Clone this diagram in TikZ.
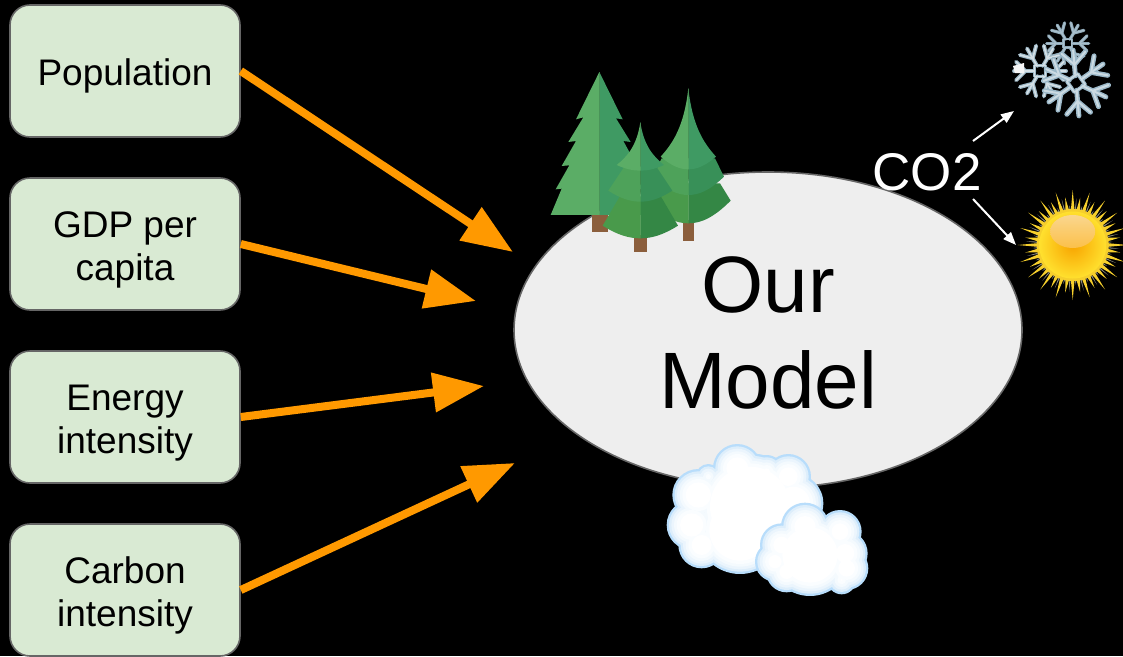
\documentclass[tikz,border=0pt]{standalone}
\usepackage{fontspec}
\setmainfont{Liberation Sans}
\usetikzlibrary{arrows.meta,shapes.geometric}
\definecolor{boxfill}{HTML}{D9EAD3}
\definecolor{edgegrey}{HTML}{666666}
\definecolor{orangeline}{HTML}{FF9900}
\definecolor{modelfill}{HTML}{EEEEEE}
\definecolor{cl0}{HTML}{B8DDFB}
\definecolor{cl1}{HTML}{DDEEFB}
\definecolor{cl2}{HTML}{EBF5FD}
\definecolor{cl3}{HTML}{F4FAFE}
\definecolor{cl4}{HTML}{FAFDFF}
\definecolor{flakeA}{HTML}{8FA9B8}
\definecolor{flakeAh}{HTML}{A9C0CD}
\definecolor{flakeB}{HTML}{9DB8C6}
\definecolor{flakeBh}{HTML}{D5E0E6}
\definecolor{flakeC}{HTML}{9BB8C8}
\definecolor{flakeCh}{HTML}{CBDAE2}
\definecolor{sunray}{HTML}{F6CF2C}
\definecolor{sunshadow}{HTML}{8A8A80}
\definecolor{sunrim}{HTML}{FFE02E}
\definecolor{suncore}{HTML}{F8A400}
\definecolor{sunhia}{HTML}{FAD68E}
\definecolor{sunhib}{HTML}{FBC04A}
\tikzset{
  inputbox/.style={draw=edgegrey,line width=1.6pt,fill=boxfill,rounded corners=20pt,minimum width=230pt,minimum height=132pt,inner sep=0pt,align=center,text=black,font=\fontsize{37}{43}\selectfont},
  model/.style={ellipse,draw=edgegrey,line width=1.6pt,fill=modelfill,minimum width=508pt,minimum height=316pt,inner sep=0pt,align=center,text=black,font=\fontsize{80}{96}\selectfont},
  bigarrow/.style={draw=orangeline,line width=8pt,-{Triangle[length=51pt,width=38pt]}},
  thinarrow/.style={draw=white,line width=2pt,-{Triangle[length=13pt,width=10pt]}},
  co2/.style={text=white,inner sep=0pt,font=\fontsize{53}{60}\selectfont},
  zoomscope/.style={x=0.3333pt,y=-0.3333pt}
}
\newcommand{\dropA}{\rule{0pt}{37pt}}
\newcommand{\dropB}{\rule{0pt}{61pt}}
% top layer: cx, top, half width, side y, bottom y, left colour, right colour
\newcommand{\treetop}[7]{%
  \fill[#7] (#1,#2) .. controls ({#1+.15*#3},{#2+.55*(#4-#2)}) and ({#1+.55*#3},{#4-.2*(#4-#2)}) .. ({#1+#3},#4)
     .. controls ({#1+.6*#3},{#5-.25*(#5-#4)}) and ({#1+.3*#3},#5) .. (#1,#5) -- cycle;
  \fill[#6] ({#1+1},#2) -- (#1,#2) .. controls ({#1-.15*#3},{#2+.55*(#4-#2)}) and ({#1-.55*#3},{#4-.2*(#4-#2)}) .. ({#1-#3},#4)
     .. controls ({#1-.6*#3},{#5-.25*(#5-#4)}) and ({#1-.3*#3},#5) .. (#1,#5) -- ({#1+1},#5) -- cycle;
}
% lower layer: cx, y where it emerges, half width there, half width, side y, bottom y, colours
\newcommand{\treelow}[8]{%
  \fill[#8] (#1,#2) -- ({#1+#3},#2) -- ({#1+#4},#5)
     .. controls ({#1+.6*#4},{#6-.25*(#6-#5)}) and ({#1+.3*#4},#6) .. (#1,#6) -- cycle;
  \fill[#7] ({#1+1},#2) -- ({#1-#3},#2) -- ({#1-#4},#5)
     .. controls ({#1-.6*#4},{#6-.25*(#6-#5)}) and ({#1-.3*#4},#6) .. (#1,#6) -- ({#1+1},#6) -- cycle;
}
% x, y, arm length, rotation, main colour, highlight colour
\newcommand{\flake}[6]{%
  \begin{scope}[shift={(#1,#2)},rotate=#4,x=1pt,y=1pt,line cap=round]
    \foreach \c/\w in {#5/0.15,#6/0.06}{
      \foreach \a in {0,60,...,300}{
        \begin{scope}[rotate=\a]
          \draw[draw=\c,line width=\w*#3 pt] (0.22*#3,0) -- (#3,0);
          \draw[draw=\c,line width=\w*#3 pt] (0.92*#3,0.36*#3) -- (0.56*#3,0) -- (0.92*#3,-0.36*#3);
        \end{scope}
      }
      \draw[draw=\c,line width=\w*0.75*#3 pt,line join=round] (0.2*#3,0.2*#3) rectangle (-0.2*#3,-0.2*#3);
    }
  \end{scope}
}
% cloud from a list of circles, inset in steps so that the edge glows
\newcommand{\softcloud}[1]{%
  \foreach \k/\col in {0/cl0,7/cl1,14/cl2,22/cl3,30/cl4,40/white}{
    \foreach \cx/\cy/\r in {#1}{
      \pgfmathsetmacro{\rr}{max(\r-\k,1)}
      \fill[\col] (\cx,\cy) circle (\rr);
    }
  }
}
\begin{document}
\begin{tikzpicture}[x=1pt,y=-1pt]
\useasboundingbox[fill=black] (0,0) rectangle (1123,656);

\node[inputbox] (pop) at (125,71) {\dropA Population};
\node[inputbox] (gdp) at (125,244) {\dropA GDP per\\capita};
\node[inputbox] (ene) at (125,417) {\dropA Energy\\intensity};
\node[inputbox] (car) at (125,590) {\dropA Carbon\\intensity};

\node[model] (mod) at (768,330) {\dropB Our\\Model};

\coordinate (t1) at (513,252);
\coordinate (t2) at (476,301);
\coordinate (t3) at (484,386);
\coordinate (t4) at (515,463);
\draw[bigarrow] (pop.east) -- (t1);
\draw[bigarrow] (gdp.east) -- (t2);
\draw[bigarrow] (ene.east) -- (t3);
\draw[bigarrow] (car.east) -- (t4);

% trees
\begin{scope}[shift={(540,60)},zoomscope]
  \definecolor{tl1}{HTML}{5BAD66}\definecolor{tr1}{HTML}{3F9A63}
  \definecolor{tl2}{HTML}{4EA25A}\definecolor{tr2}{HTML}{389058}
  \definecolor{tl3}{HTML}{499A4B}\definecolor{tr3}{HTML}{348745}
  \definecolor{trunk}{HTML}{8B5E3C}
  % left tree
  \fill[trunk] (155,460) rectangle (203,516);
  \fill[tr1] (178,36) -- (248,178) -- (228,175) -- (272,246) -- (250,243) -- (291,318) -- (268,316) -- (309,388) -- (291,386) -- (324,465) -- (178,465) -- cycle;
  \fill[tl1] (179,36) -- (178,36) -- (108,178) -- (130,172) -- (85,246) -- (108,243) -- (65,318) -- (88,316) -- (47,388) -- (65,386) -- (32,465) -- (179,465) -- cycle;
  % right tree
  \fill[trunk] (428,480) rectangle (462,542);
  \treelow{445}{370}{95}{127}{422}{490}{tl3}{tr3}
  \treelow{445}{295}{80}{107}{350}{405}{tl2}{tr2}
  \treetop{445}{85}{83}{290}{328}{tl1}{tr1}
  % middle tree
  \fill[trunk] (282,525) rectangle (322,575);
  \treelow{301}{410}{62}{113}{497}{535}{tl3}{tr3}
  \treelow{301}{320}{48}{96}{392}{425}{tl2}{tr2}
  \treetop{301}{187}{71}{315}{332}{tl1}{tr1}
\end{scope}

% clouds
\begin{scope}[shift={(650,430)},zoomscope]
  \softcloud{262/115/73,175/140/38,350/125/50,415/140/68,145/195/78,125/285/75,155/345/70,270/300/132,430/220/90,300/230/160}
  \softcloud{465/290/72,570/305/65,395/345/65,585/370/68,375/395/60,590/415/65,410/425/62,575/450/43,480/375/123}
\end{scope}

% snowflakes
\flake{1067.7}{43.3}{21}{0}{flakeA}{flakeAh}
\flake{1040}{71}{26}{0}{flakeB}{flakeBh}
\fill[white!92!gray] (1013,66) -- (1024,63) -- (1024,73) -- (1015,73) -- cycle;
\flake{1076}{83}{33}{35}{flakeC}{flakeCh}

% sun
\begin{scope}[shift={(1072.7,245)}]
  \foreach \i in {0,...,39}{
    \pgfmathsetmacro{\ang}{\i*9}
    \pgfmathsetmacro{\rad}{isodd(\i) ? 48 : 55}
    \fill[sunshadow] (\ang+9-3.5:36) -- (\ang+4.5:\rad-8) -- (\ang+9-5.5:36) -- cycle;
    \fill[sunray] (\ang-3:35) -- (\ang:\rad) -- (\ang+3:35) -- cycle;
  }
  \fill[sunray] (0,0) circle (36);
  \shade[inner color=suncore,outer color=sunrim] (0,0) circle (33.5);
  \shade[top color=sunhia,bottom color=sunhib] (0,-13.5) ellipse (22.5 and 16.5);
\end{scope}

\node[co2] (co) at (927,172) {CO2};
\coordinate (c1) at (973,141);
\coordinate (c2) at (1014,111);
\coordinate (c3) at (973,199);
\coordinate (c4) at (1016,245);
\draw[thinarrow] (c1) -- (c2);
\draw[thinarrow] (c3) -- (c4);
\end{tikzpicture}
\end{document}
